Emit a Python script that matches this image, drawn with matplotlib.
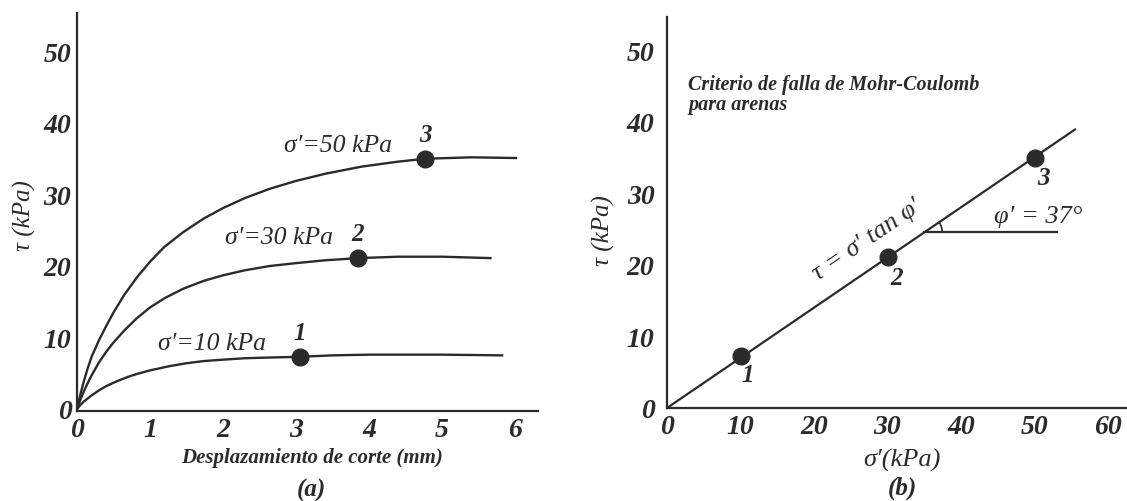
import numpy as np
import matplotlib.pyplot as plt
from matplotlib.patches import Arc

W, H = 1127, 502

# shear stress vs displacement curves, one per normal stress
disp_10 = [0, 0.05, 0.1, 0.2, 0.3, 0.4, 0.55, 0.7, 0.82, 1.0, 1.27, 1.5, 1.73, 2.0, 2.3, 2.64, 3.05, 3.5, 4.0, 4.5, 5.0, 5.84]
tau_10 = [0, 0.6, 1.1, 1.9, 2.6, 3.2, 3.9, 4.5, 4.9, 5.4, 6.0, 6.4, 6.7, 6.9, 7.1, 7.2, 7.3, 7.5, 7.6, 7.6, 7.6, 7.5]
disp_30 = [0, 0.05, 0.1, 0.15, 0.2, 0.3, 0.4, 0.5, 0.65, 0.82, 1.0, 1.2, 1.45, 1.73, 2.0, 2.3, 2.64, 3.0, 3.4, 3.85, 4.4, 5.0, 5.68]
tau_30 = [0, 1.4, 2.6, 3.7, 4.7, 6.5, 8.0, 9.3, 11.0, 12.7, 14.2, 15.5, 16.8, 17.9, 18.7, 19.4, 20.0, 20.4, 20.8, 21.1, 21.3, 21.3, 21.1]
disp_50 = [0, 0.05, 0.1, 0.15, 0.2, 0.3, 0.4, 0.5, 0.65, 0.82, 1.0, 1.2, 1.45, 1.73, 2.0, 2.3, 2.64, 3.0, 3.4, 3.9, 4.4, 4.77, 5.4, 6.03]
tau_50 = [0, 2.2, 4.1, 5.8, 7.3, 9.6, 11.6, 13.5, 16.0, 18.4, 20.6, 22.7, 24.7, 26.6, 28.1, 29.5, 30.8, 31.9, 32.9, 33.9, 34.6, 35.0, 35.2, 35.1]

# peak points
sigma_n = [10, 30, 50]
disp_peak = [3.05, 3.85, 4.77]
tau_peak = [7.3, 21.1, 35.0]
peak_names = ['1', '2', '3']
curve_names = ["σ′=10 kPa", "σ′=30 kPa", "σ′=50 kPa"]

x_ticks_a = [0, 1, 2, 3, 4, 5, 6]
x_ticks_b = [0, 10, 20, 30, 40, 50, 60]
y_ticks = [0, 10, 20, 30, 40, 50]

ink = '#2b2b2b'
plt.rcParams['font.family'] = ['Liberation Serif', 'DejaVu Serif']


def px(x, y):
	return x / W, 1 - y / H


def style_axes(ax, xt, ypad):
	for s in ['top', 'right']:
		ax.spines[s].set_visible(False)
	for s in ['left', 'bottom']:
		ax.spines[s].set_linewidth(1.6)
		ax.spines[s].set_color(ink)
	ax.set_xticks(xt)
	ax.set_yticks(y_ticks)
	ax.tick_params(axis='x', length=0, pad=4, labelsize=20, labelcolor=ink)
	ax.tick_params(axis='y', length=0, pad=ypad, labelsize=20, labelcolor=ink)
	for lab in ax.get_xticklabels() + ax.get_yticklabels():
		lab.set_fontweight('bold')
		lab.set_fontstyle('italic')
	ax.patch.set_alpha(0)


fig = plt.figure(figsize=(W / 100, H / 100), dpi=100)

# (a) shear stress vs displacement
ax1 = fig.add_axes([77 / W, (H - 412) / H, (538 - 77) / W, (412 - 14) / H])
ax1.set_xlim(0, 461 / 73)
ax1.set_ylim(-2 / 7.15, 396 / 7.15)
for d, t in [(disp_10, tau_10), (disp_30, tau_30), (disp_50, tau_50)]:
	ax1.plot(d, t, color=ink, lw=1.7, solid_capstyle='butt', solid_joinstyle='round', clip_on=False)
ax1.plot(disp_peak, tau_peak, 'o', color=ink, ms=12, clip_on=False)
name_off = [(-1.2, 1.9), (-1.08, 2.9), (-1.2, 1.9)]
for i in range(3):
	ax1.text(disp_peak[i] + name_off[i][0], tau_peak[i] + name_off[i][1], curve_names[i],
		fontsize=18.5, fontstyle='italic', color=ink, ha='center', va='center')
	ax1.text(disp_peak[i], tau_peak[i] + 3.4, peak_names[i], fontsize=18,
		fontweight='bold', fontstyle='italic', color=ink, ha='center', va='center')
style_axes(ax1, x_ticks_a, 4)

fig.text(*px(24, 216), 'τ (kPa)', rotation=90, fontsize=18, fontstyle='italic',
	color=ink, ha='center', va='center')
fig.text(*px(312, 458), 'Desplazamiento de corte (mm)', fontsize=15, fontweight='bold',
	fontstyle='italic', color=ink, ha='center', va='center')
fig.text(*px(311, 490), '(a)', fontsize=18, fontweight='bold', fontstyle='italic',
	color=ink, ha='center', va='center')

# (b) Mohr-Coulomb envelope
ax2 = fig.add_axes([667 / W, (H - 409) / H, (W - 667) / W, (409 - 18) / H])
ax2.set_xlim(0, 460 / 7.35)
ax2.set_ylim(0, 391 / 7.15)
s = np.array(sigma_n, dtype=float)
t = np.array(tau_peak)
slope = (s * t).sum() / (s * s).sum()
ax2.plot([0, 55.5], [0, slope * 55.5], color=ink, lw=1.6)
ax2.plot(sigma_n, tau_peak, 'o', color=ink, ms=12)
lab_off = [(1.0, -2.6), (1.2, -2.8), (1.2, -2.7)]
for i in range(3):
	ax2.text(sigma_n[i] + lab_off[i][0], tau_peak[i] + lab_off[i][1], peak_names[i],
		fontsize=18, fontweight='bold', fontstyle='italic', color=ink, ha='center', va='center')

x0 = 35.0
ax2.plot([x0, 53.1], [slope * x0, slope * x0], color=ink, lw=1.6)
p0 = ax2.transData.transform((0, 0))
p1 = ax2.transData.transform((55.5, slope * 55.5))
ang = np.degrees(np.arctan2(p1[1] - p0[1], p1[0] - p0[0]))
r = 18
ax2.add_patch(Arc((x0, slope * x0), 2 * r / 7.35, 2 * r / 7.15, theta1=0, theta2=ang,
	color=ink, lw=1.2))
ax2.text(50.5, (409 - 217) / 7.15, "φ′ = 37°", fontsize=19, fontstyle='italic', color=ink,
	ha='center', va='center')
ax2.text(27.2, (409 - 240) / 7.15, "τ = σ′ tan φ′", fontsize=19, fontstyle='italic',
	color=ink, ha='center', va='center', rotation=ang, rotation_mode='anchor')
ax2.text((688 - 667) / 7.35, (409 - 95) / 7.15, 'Criterio de falla de Mohr-Coulomb\npara arenas',
	fontsize=14.5, fontweight='bold', fontstyle='italic', color=ink, ha='left', va='center',
	linespacing=1.05)
style_axes(ax2, x_ticks_b, 9)

fig.text(*px(603, 231), 'τ (kPa)', rotation=90, fontsize=18, fontstyle='italic',
	color=ink, ha='center', va='center')
fig.text(*px(902, 460), 'σ′(kPa)', fontsize=19, fontstyle='italic', color=ink,
	ha='center', va='center')
fig.text(*px(902, 488), '(b)', fontsize=18, fontweight='bold', fontstyle='italic',
	color=ink, ha='center', va='center')

fig.savefig('out.png', dpi=100)
